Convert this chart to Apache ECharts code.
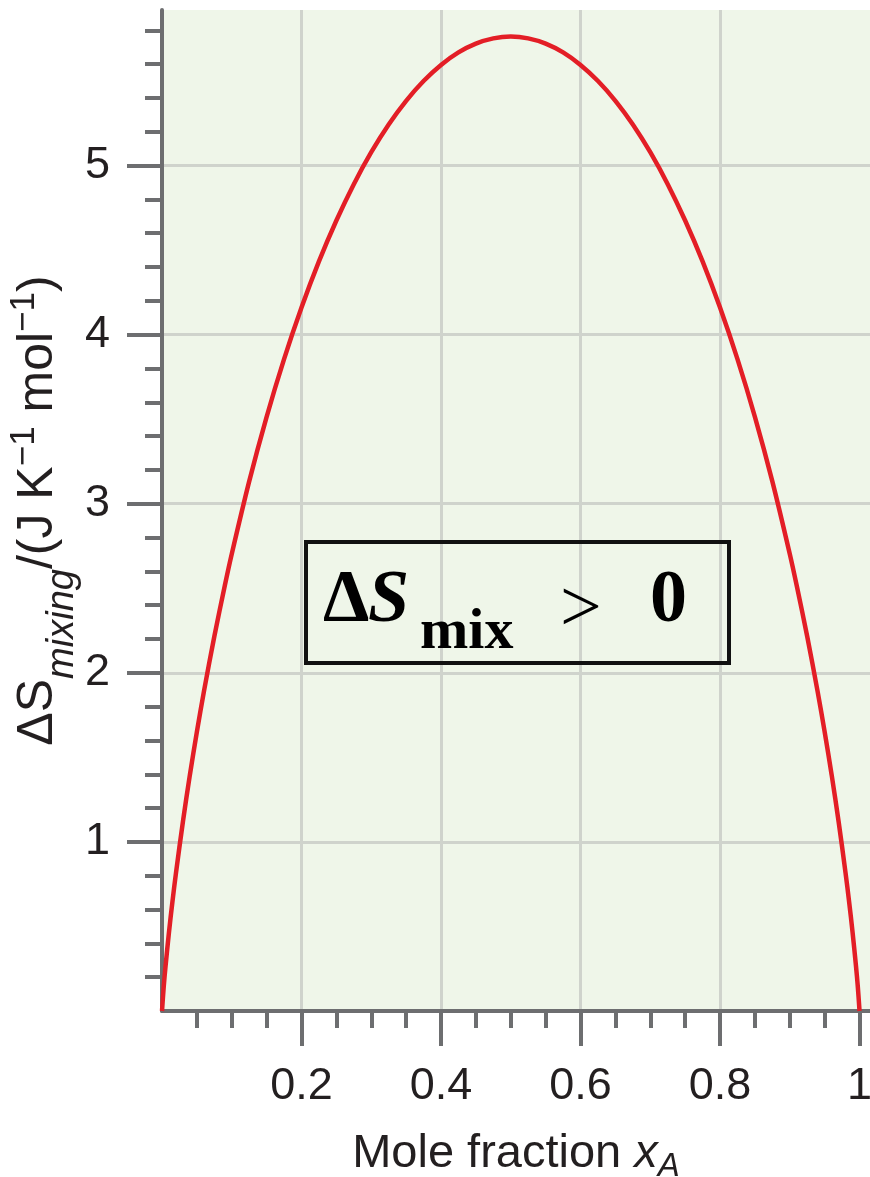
<!DOCTYPE html>
<html>
<head>
<meta charset="utf-8">
<script src="https://cdn.jsdelivr.net/npm/echarts@6/dist/echarts.min.js"></script>
<style>
html,body{margin:0;padding:0;background:#fff;}
#chart{width:870px;height:1177px;}
</style>
</head>
<body>
<div id="chart"></div>
<script>
// Mole fraction x_A and entropy of mixing (J K^-1 mol^-1)
const moleFraction = [0, 0.0025, 0.005, 0.01, 0.015, 0.02, 0.03, 0.04, 0.05, 0.06, 0.075, 0.09, 0.1, 0.125, 0.15, 0.175, 0.2, 0.225, 0.25, 0.275, 0.3, 0.325, 0.35, 0.375, 0.4, 0.425, 0.45, 0.475, 0.5,
  0.525, 0.55, 0.575, 0.6, 0.625, 0.65, 0.675, 0.7, 0.725, 0.75, 0.775, 0.8, 0.825, 0.85, 0.875, 0.9, 0.91, 0.925, 0.94, 0.95, 0.96, 0.97, 0.98, 0.985, 0.99, 0.995, 0.9975, 1];
const deltaSMix = [0, 0.145, 0.262, 0.466, 0.648, 0.815, 1.120, 1.397, 1.651, 1.887, 2.215, 2.515, 2.703, 3.132, 3.514, 3.855, 4.160, 4.433, 4.675, 4.890, 5.079, 5.243, 5.383, 5.500, 5.595, 5.669, 5.721, 5.752, 5.763,
  5.752, 5.721, 5.669, 5.595, 5.500, 5.383, 5.243, 5.079, 4.890, 4.675, 4.433, 4.160, 3.855, 3.514, 3.132, 2.703, 2.515, 2.215, 1.887, 1.651, 1.397, 1.120, 0.815, 0.648, 0.466, 0.262, 0.145, 0];

const xMajorTicks = [0.2, 0.4, 0.6, 0.8, 1];
const xMinorTicks = [0.05, 0.1, 0.15, 0.25, 0.3, 0.35, 0.45, 0.5, 0.55, 0.65, 0.7, 0.75, 0.85, 0.9, 0.95];
const xGridValues = [0.2, 0.4, 0.6, 0.8];
const yMajorTicks = [1, 2, 3, 4, 5];
const yMinorTicks = [0.2, 0.4, 0.6, 0.8, 1.2, 1.4, 1.6, 1.8, 2.2, 2.4, 2.6, 2.8, 3.2, 3.4, 3.6, 3.8, 4.2, 4.4, 4.6, 4.8, 5.2, 5.4, 5.6, 5.8];

const AXIS = '#6d6e70';
const GRIDC = '#cfd3cc';
const TXT = '#231f20';
const SANS = 'Liberation Sans, Arial, Helvetica, sans-serif';
const SERIF = 'Liberation Serif, Times New Roman, serif';
const X_MAX = 1.015, Y_MAX = 5.92;

const chart = echarts.init(document.getElementById('chart'), null, {renderer: 'canvas'});

const baseX = {type: 'value', min: 0, max: X_MAX, position: 'bottom', offset: 0, gridIndex: 0};
const baseY = {type: 'value', min: 0, max: Y_MAX, position: 'left', offset: 0, gridIndex: 0};

function tok(size, center, extra) {
  return Object.assign({fontFamily: SANS, fontSize: size, color: TXT, verticalAlign: 'top', height: center * 2}, extra || {});
}

chart.setOption({
  animation: false,
  backgroundColor: '#ffffff',
  title: {
    text: '{d|Δ}{s|S}{m|mix}{g|>}{z|0}',
    left: 306, top: 543,
    padding: [23, 39, 1, 17],
    borderColor: '#111111', borderWidth: 4,
    textStyle: {
      rich: {
        d: {fontFamily: SERIF, fontWeight: 'bold', fontSize: 74, lineHeight: 92, height: 72, verticalAlign: 'top', width: 45, color: '#000'},
        s: {fontFamily: SERIF, fontWeight: 'bold', fontStyle: 'italic', fontSize: 74, lineHeight: 92, height: 72, verticalAlign: 'top', width: 52, color: '#000'},
        m: {fontFamily: SERIF, fontWeight: 'bold', fontSize: 58, lineHeight: 92, height: 50, verticalAlign: 'bottom', width: 140, color: '#000'},
        g: {fontFamily: SERIF, fontWeight: 'normal', fontSize: 74, lineHeight: 92, height: 92, verticalAlign: 'top', width: 90, color: '#000'},
        z: {fontFamily: SERIF, fontWeight: 'bold', fontSize: 74, lineHeight: 92, height: 72, verticalAlign: 'top', width: 40, color: '#000'}
      }
    }
  },
  grid: {left: 162, right: 0, top: 10, bottom: 166, backgroundColor: '#eff6e9', show: true, borderWidth: 0, outerBoundsMode: 'none', containLabel: false},
  xAxis: [
    Object.assign({}, baseX, {
      name: '{t|Mole fraction }{i|x}{a|A}',
      nameLocation: 'middle', nameGap: 119, nameMoveOverlap: false,
      nameTextStyle: {
        fontFamily: SANS, fontSize: 47, color: TXT,
        rich: {
          t: tok(47, 24, {lineHeight: 74}),
          i: tok(47, 24, {lineHeight: 74, fontStyle: 'italic'}),
          a: tok(33, 37, {lineHeight: 74, fontStyle: 'italic'})
        }
      },
      axisLine: {show: true, onZero: false, lineStyle: {color: AXIS, width: 4}},
      axisTick: {show: true, length: 35, customValues: xMajorTicks, lineStyle: {color: AXIS, width: 4}},
      axisLabel: {show: true, customValues: xMajorTicks, margin: 53, fontFamily: SANS, fontSize: 45, color: TXT},
      splitLine: {show: false}
    }),
    Object.assign({}, baseX, {
      axisLine: {show: false},
      axisTick: {show: true, length: 17, customValues: xMinorTicks, lineStyle: {color: AXIS, width: 4}},
      axisLabel: {show: false},
      splitLine: {show: false}
    }),
    Object.assign({}, baseX, {
      axisLine: {show: false},
      axisTick: {show: false, customValues: xGridValues},
      axisLabel: {show: false},
      splitLine: {show: true, lineStyle: {color: GRIDC, width: 3}}
    })
  ],
  yAxis: [
    Object.assign({}, baseY, {
      name: '{n|ΔS}{sub|mixing}{n|/(J K}{sup|−1}{n| mol}{sup|−1}{n|)}',
      nameLocation: 'middle', nameGap: 51, nameMoveOverlap: false,
      nameTextStyle: {
        fontFamily: SANS, fontSize: 50, color: TXT,
        rich: {
          n: tok(50, 25, {lineHeight: 98}),
          sub: tok(38, 49, {lineHeight: 98, fontStyle: 'italic'}),
          sup: tok(35, 11, {lineHeight: 98})
        }
      },
      axisLine: {show: true, onZero: false, lineStyle: {color: AXIS, width: 4}},
      axisTick: {show: true, length: 35, customValues: yMajorTicks, lineStyle: {color: AXIS, width: 4}},
      axisLabel: {show: true, customValues: yMajorTicks, margin: 52, fontFamily: SANS, fontSize: 45, color: TXT},
      splitLine: {show: true, lineStyle: {color: GRIDC, width: 3}}
    }),
    Object.assign({}, baseY, {
      axisLine: {show: false},
      axisTick: {show: true, length: 17, customValues: yMinorTicks, lineStyle: {color: AXIS, width: 4}},
      axisLabel: {show: false},
      splitLine: {show: false}
    })
  ],
  series: [{
    type: 'line',
    xAxisIndex: 0, yAxisIndex: 0,
    data: moleFraction.map((x, i) => [x, deltaSMix[i]]),
    smooth: 0.3,
    showSymbol: false,
    symbol: 'none',
    lineStyle: {color: '#e31e26', width: 4.5},
    z: 5
  }]
});
</script>
</body>
</html>
